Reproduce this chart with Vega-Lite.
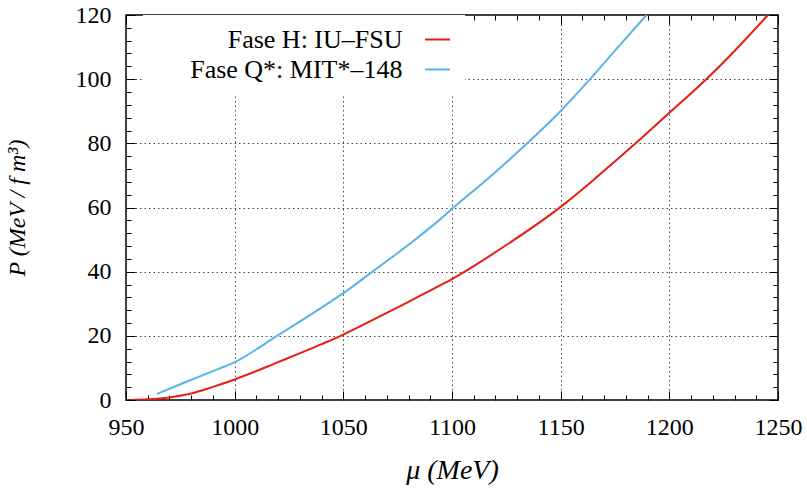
{
  "$schema": "https://vega.github.io/schema/vega-lite/v6.json",
  "width": 652,
  "height": 385,
  "autosize": "none",
  "padding": {"left": 126, "top": 15, "right": 29, "bottom": 90},
  "background": "white",
  "config": {
    "view": {"stroke": "black", "strokeWidth": 1.5},
    "font": "Liberation Serif"
  },
  "data": {
    "values": [
      {"fase": "Fase H: IU–FSU", "mu": 952, "P": 0},
      {"fase": "Fase H: IU–FSU", "mu": 960, "P": 0.2},
      {"fase": "Fase H: IU–FSU", "mu": 970, "P": 0.8},
      {"fase": "Fase H: IU–FSU", "mu": 980, "P": 2.0},
      {"fase": "Fase H: IU–FSU", "mu": 990, "P": 4.1},
      {"fase": "Fase H: IU–FSU", "mu": 1000, "P": 6.4},
      {"fase": "Fase H: IU–FSU", "mu": 1020, "P": 11.8},
      {"fase": "Fase H: IU–FSU", "mu": 1040, "P": 17.4},
      {"fase": "Fase H: IU–FSU", "mu": 1050, "P": 20.4},
      {"fase": "Fase H: IU–FSU", "mu": 1062, "P": 24.4},
      {"fase": "Fase H: IU–FSU", "mu": 1080, "P": 30.6},
      {"fase": "Fase H: IU–FSU", "mu": 1094.5, "P": 35.7},
      {"fase": "Fase H: IU–FSU", "mu": 1100, "P": 37.7},
      {"fase": "Fase H: IU–FSU", "mu": 1125, "P": 48.3},
      {"fase": "Fase H: IU–FSU", "mu": 1150, "P": 60.2},
      {"fase": "Fase H: IU–FSU", "mu": 1165, "P": 68.5},
      {"fase": "Fase H: IU–FSU", "mu": 1175, "P": 74.4},
      {"fase": "Fase H: IU–FSU", "mu": 1185, "P": 80.3},
      {"fase": "Fase H: IU–FSU", "mu": 1200, "P": 89.5},
      {"fase": "Fase H: IU–FSU", "mu": 1217, "P": 100},
      {"fase": "Fase H: IU–FSU", "mu": 1230, "P": 108.8},
      {"fase": "Fase H: IU–FSU", "mu": 1245.3, "P": 120},
      {"fase": "Fase Q*: MIT*–148", "mu": 964.3, "P": 1.9},
      {"fase": "Fase Q*: MIT*–148", "mu": 977.8, "P": 5.7},
      {"fase": "Fase Q*: MIT*–148", "mu": 988.5, "P": 8.6},
      {"fase": "Fase Q*: MIT*–148", "mu": 1000, "P": 11.8},
      {"fase": "Fase Q*: MIT*–148", "mu": 1020, "P": 20.2},
      {"fase": "Fase Q*: MIT*–148", "mu": 1040, "P": 28.8},
      {"fase": "Fase Q*: MIT*–148", "mu": 1050, "P": 33.3},
      {"fase": "Fase Q*: MIT*–148", "mu": 1062, "P": 39.3},
      {"fase": "Fase Q*: MIT*–148", "mu": 1080, "P": 48.4},
      {"fase": "Fase Q*: MIT*–148", "mu": 1094.5, "P": 56.3},
      {"fase": "Fase Q*: MIT*–148", "mu": 1100, "P": 59.6},
      {"fase": "Fase Q*: MIT*–148", "mu": 1117, "P": 69.3},
      {"fase": "Fase Q*: MIT*–148", "mu": 1134.6, "P": 80},
      {"fase": "Fase Q*: MIT*–148", "mu": 1150, "P": 90.1},
      {"fase": "Fase Q*: MIT*–148", "mu": 1163.5, "P": 100},
      {"fase": "Fase Q*: MIT*–148", "mu": 1176, "P": 109.7},
      {"fase": "Fase Q*: MIT*–148", "mu": 1189.5, "P": 120}
    ]
  },
  "layer": [
    {
      "mark": {"type": "line", "strokeWidth": 2, "interpolate": "monotone", "clip": true},
      "encoding": {
        "x": {
          "field": "mu", "type": "quantitative",
          "scale": {"domain": [950, 1250], "nice": false, "zero": false},
          "axis": {
            "orient": "bottom",
            "values": [950,960,970,980,990,1000,1010,1020,1030,1040,1050,1060,1070,1080,1090,1100,1110,1120,1130,1140,1150,1160,1170,1180,1190,1200,1210,1220,1230,1240,1250],
            "labelExpr": "datum.value % 50 === 0 ? datum.label : ''",
            "format": "d",
            "domain": false,
            "tickColor": "black",
            "tickWidth": 1,
            "tickSize": {"condition": {"test": "datum.value % 50 === 0", "value": -9}, "value": -5},
            "grid": true,
            "gridColor": "#444444",
            "gridDash": [1.5, 3],
            "gridWidth": 1,
            "gridOpacity": {"condition": {"test": "datum.value % 50 === 0", "value": 1}, "value": 0},
            "labelFontSize": 24,
            "labelColor": "black",
            "labelPadding": 24,
            "labelFlush": false,
            "labelOverlap": false,
            "title": "μ (MeV)",
            "titleFont": "Liberation Serif",
            "titleFontStyle": "italic",
            "titleFontWeight": "normal",
            "titleFontSize": 28,
            "titleColor": "black",
            "titlePadding": 13
          }
        },
        "y": {
          "field": "P", "type": "quantitative",
          "scale": {"domain": [0, 120], "nice": false},
          "axis": {
            "orient": "left",
            "values": [0,4,8,12,16,20,24,28,32,36,40,44,48,52,56,60,64,68,72,76,80,84,88,92,96,100,104,108,112,116,120],
            "labelExpr": "datum.value % 20 === 0 ? datum.label : ''",
            "domain": false,
            "tickColor": "black",
            "tickWidth": 1,
            "tickSize": {"condition": {"test": "datum.value % 20 === 0", "value": -9}, "value": -5},
            "grid": true,
            "gridColor": "#444444",
            "gridDash": [1.5, 3],
            "gridWidth": 1,
            "gridOpacity": {"condition": {"test": "datum.value % 20 === 0", "value": 1}, "value": 0},
            "labelFontSize": 24,
            "labelColor": "black",
            "labelPadding": 24,
            "labelFlush": false,
            "labelOverlap": false,
            "title": "P (MeV / f m³)",
            "titleFont": "Liberation Serif",
            "titleFontStyle": "italic",
            "titleFontWeight": "normal",
            "titleFontSize": 24,
            "titleColor": "black",
            "titlePadding": 46
          }
        },
        "color": {
          "field": "fase", "type": "nominal",
          "scale": {"domain": ["Fase H: IU–FSU", "Fase Q*: MIT*–148"], "range": ["#e51e10", "#56b4e9"]},
          "legend": {
            "orient": "none",
            "legendX": 17,
            "legendY": 0,
            "title": null,
            "symbolType": "stroke",
            "symbolSize": 625,
            "symbolStrokeWidth": 2,
            "labelFontSize": 26,
            "labelColor": "black",
            "labelFont": "Liberation Serif",
            "labelLimit": 400,
            "rowPadding": 3,
            "fillColor": "white",
            "padding": 11,
            "encode": {
              "labels": {"update": {"x": {"value": 248.5}, "align": {"value": "right"}}},
              "symbols": {"update": {"x": {"value": 283.5}}}
            }
          }
        }
      }
    },
    {
      "mark": {"type": "line", "opacity": 0},
      "encoding": {
        "x": {
          "field": "mu", "type": "quantitative",
          "axis": {
            "orient": "top",
            "values": [950,960,970,980,990,1000,1010,1020,1030,1040,1050,1060,1070,1080,1090,1100,1110,1120,1130,1140,1150,1160,1170,1180,1190,1200,1210,1220,1230,1240,1250],
            "labels": false,
            "domain": false,
            "grid": false,
            "title": null,
            "tickColor": "black",
            "tickWidth": 1,
            "tickSize": {"condition": {"test": "datum.value % 50 === 0", "value": -9}, "value": -5}
          }
        },
        "y": {
          "field": "P", "type": "quantitative",
          "axis": {
            "orient": "right",
            "values": [0,4,8,12,16,20,24,28,32,36,40,44,48,52,56,60,64,68,72,76,80,84,88,92,96,100,104,108,112,116,120],
            "labels": false,
            "domain": false,
            "grid": false,
            "title": null,
            "tickColor": "black",
            "tickWidth": 1,
            "tickSize": {"condition": {"test": "datum.value % 20 === 0", "value": -9}, "value": -5}
          }
        },
        "detail": {"field": "fase"}
      }
    }
  ]
}
